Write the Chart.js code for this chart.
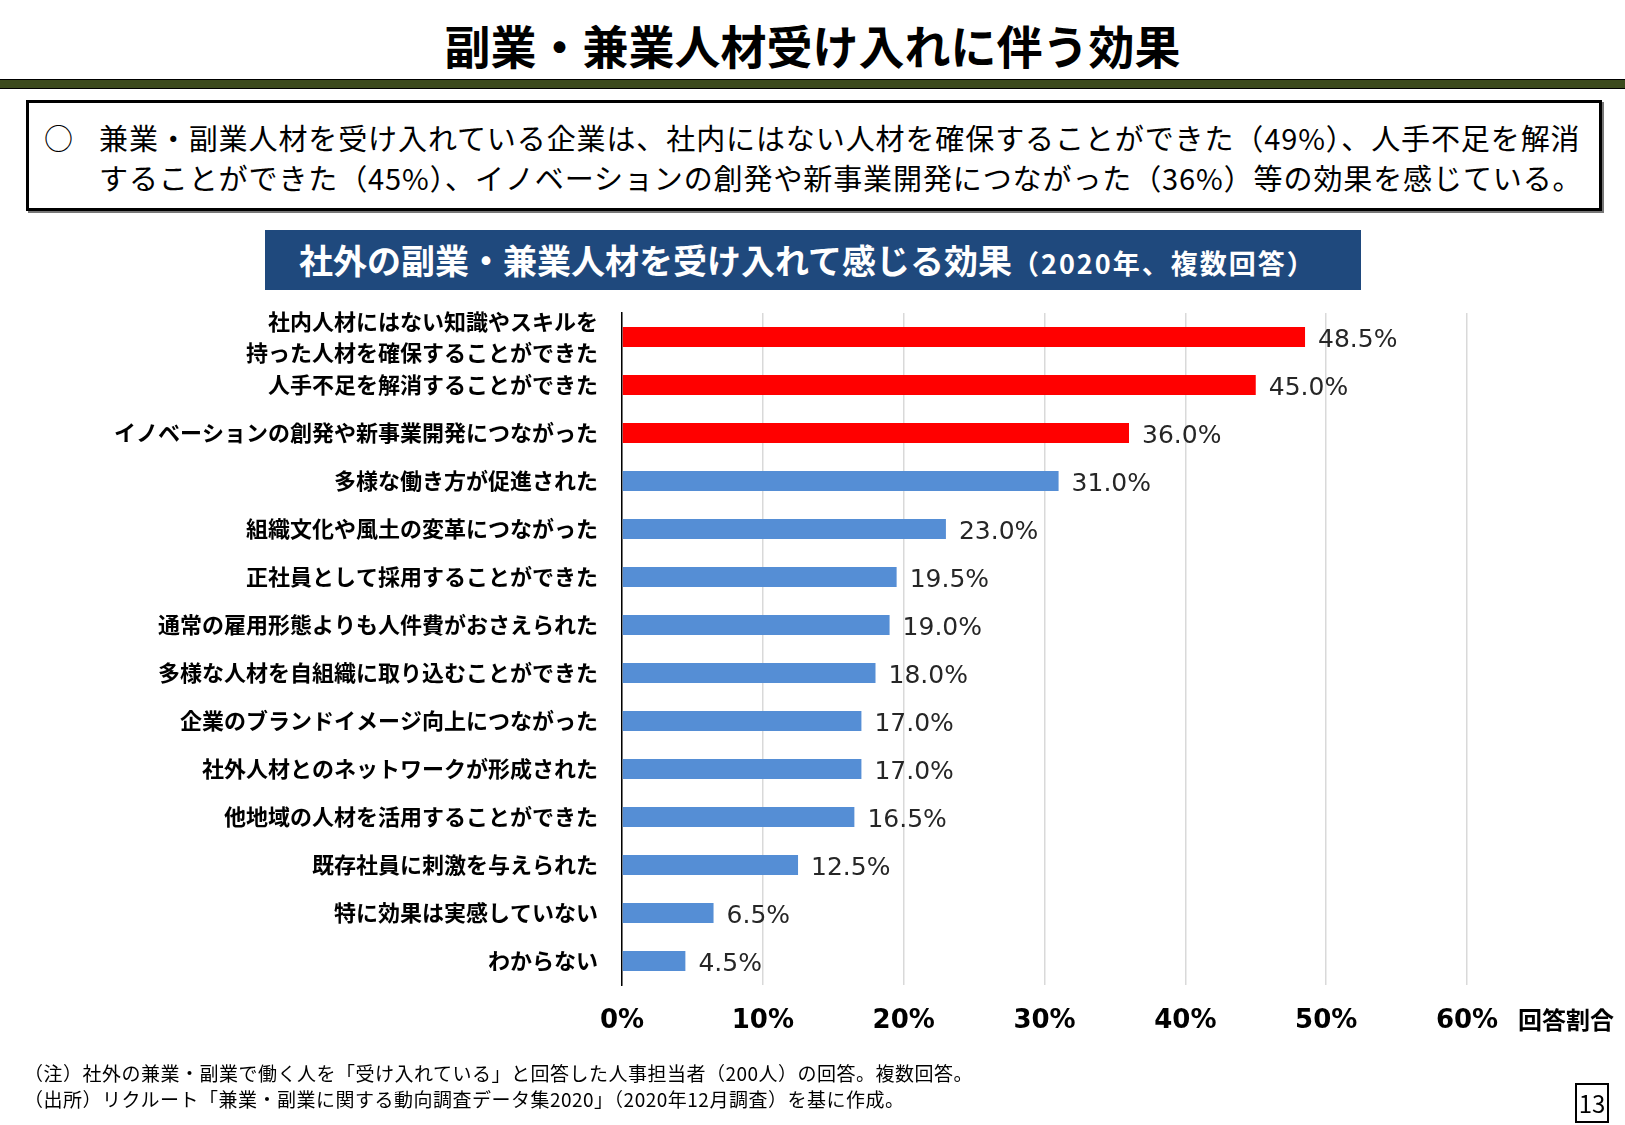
<!DOCTYPE html>
<html lang="ja">
<head>
<meta charset="utf-8">
<script src="https://cdn.jsdelivr.net/npm/chart.js@4.4.1/dist/chart.umd.min.js"></script>
<style>
  html, body { margin: 0; padding: 0; background: #fff; }
  body { width: 1625px; height: 1125px; position: relative; overflow: hidden;
         font-family: "Noto Sans CJK JP", "Noto Sans", sans-serif; color: #000; }
  .abs { position: absolute; }
  #title { left: 0; width: 1625px; top: 12px; text-align: center; font-size: 46px; font-weight: 700; line-height: 64px; }
  #band { left: 0; width: 1625px; top: 79px; height: 8px; background: #3c4a1d; border-top: 1px solid #000; border-bottom: 1px solid #000; }
  #box { left: 26px; top: 100px; width: 1570px; height: 105px; border: 3px solid #000; box-shadow: 2px 2px 0 #777; }
  .line { white-space: nowrap; font-size: 29px; line-height: 40px; letter-spacing: 0.9px; }
  #sub { left: 265px; top: 230px; width: 1096px; height: 60px; background: #1f497d; color: #fff;
         font-weight: 700; font-size: 34px; line-height: 60px; white-space: nowrap; }
  #sub small { font-size: 27px; letter-spacing: 2px; }
  #unit { left: 1518px; top: 1003px; font-size: 24px; font-weight: 700; line-height: 32px; }
  .foot { left: 24px; font-size: 19px; line-height: 26px; white-space: nowrap; letter-spacing: 0.5px; }
  #page { left: 1575px; top: 1083px; width: 30px; height: 36px; border: 2px solid #000; text-align: center;
          font-size: 24px; line-height: 36px; }
  #wrap { left: 0; top: 300px; width: 1625px; height: 760px; }
</style>
</head>
<body>
<div id="title" class="abs">副業・兼業人材受け入れに伴う効果</div>
<div id="band" class="abs"></div>
<div id="box" class="abs">
  <div class="line abs" style="left:15px; top:14px;">○</div>
  <div class="line abs" style="left:70px; top:14px;">兼業・副業人材を受け入れている企業は、社内にはない人材を確保することができた（49%）、人手不足を解消</div>
  <div class="line abs" style="left:70px; top:54px;">することができた（45%）、イノベーションの創発や新事業開発につながった（36%）等の効果を感じている。</div>
</div>
<div id="sub" class="abs"><span style="margin-left:34px">社外の副業・兼業人材を受け入れて感じる効果</span><small>（2020年、複数回答）</small></div>
<div id="wrap" class="abs"><canvas id="chart" width="1625" height="760"></canvas></div>
<div id="unit" class="abs">回答割合</div>
<div class="foot abs" style="top:1060px;">（注）社外の兼業・副業で働く人を「受け入れている」と回答した人事担当者（200人）の回答。複数回答。</div>
<div class="foot abs" style="top:1086px;">（出所）リクルート「兼業・副業に関する動向調査データ集2020」（2020年12月調査）を基に作成。</div>
<div id="page" class="abs">13</div>

<script>
// ================= DATA =================
const categories = [
  ["社内人材にはない知識やスキルを", "持った人材を確保することができた"],
  "人手不足を解消することができた",
  "イノベーションの創発や新事業開発につながった",
  "多様な働き方が促進された",
  "組織文化や風土の変革につながった",
  "正社員として採用することができた",
  "通常の雇用形態よりも人件費がおさえられた",
  "多様な人材を自組織に取り込むことができた",
  "企業のブランドイメージ向上につながった",
  "社外人材とのネットワークが形成された",
  "他地域の人材を活用することができた",
  "既存社員に刺激を与えられた",
  "特に効果は実感していない",
  "わからない"
];
const values = [48.5, 45.0, 36.0, 31.0, 23.0, 19.5, 19.0, 18.0, 17.0, 17.0, 16.5, 12.5, 6.5, 4.5];
const highlighted = [true, true, true, false, false, false, false, false, false, false, false, false, false, false];
const xTicks = [0, 10, 20, 30, 40, 50, 60];

// ================= LABEL PLUGIN =================
const valueLabels = {
  id: "valueLabels",
  afterDatasetsDraw(chart) {
    const ctx = chart.ctx;
    const meta = chart.getDatasetMeta(0);
    ctx.save();
    ctx.font = "25px 'DejaVu Sans'";
    ctx.fillStyle = "#262626";
    ctx.textAlign = "left";
    ctx.textBaseline = "middle";
    meta.data.forEach((bar, i) => {
      ctx.fillText(values[i].toFixed(1) + "%", bar.x + 13, bar.y + 3);
    });
    ctx.restore();
  }
};

// ================= CHART =================
const ctx = document.getElementById("chart").getContext("2d");

new Chart(ctx, {
  type: "bar",
  data: {
    labels: categories,
    datasets: [{
      data: values,
      backgroundColor: highlighted.map(h => h ? "#ff0000" : "#558ed5"),
      barPercentage: 0.42,
      categoryPercentage: 1.0
    }]
  },
  options: {
    indexAxis: "y",
    responsive: false,
    animation: false,
    layout: { padding: { left: 0, right: 158, top: 13, bottom: 0 } },
    plugins: { legend: { display: false }, tooltip: { enabled: false } },
    scales: {
      x: {
        min: 0,
        max: 60,
        afterBuildTicks: (scale) => { scale.ticks = xTicks.map(v => ({ value: v })); },
        afterFit: (scale) => { scale.height = 75; },
        grid: { color: "#d9d9d9", lineWidth: 1.5, drawTicks: false },
        border: { display: false },
        ticks: {
          padding: 21,
          color: "#000",
          font: { family: "'DejaVu Sans'", size: 26, weight: "bold" },
          callback: (v) => v + "%"
        }
      },
      y: {
        afterFit: (scale) => { scale.width = 622; scale.paddingTop = 0; scale.paddingBottom = 0; },
        grid: { display: false, drawTicks: false },
        border: { display: true, color: "#000", width: 1.5 },
        ticks: {
          autoSkip: false,
          padding: 24,
          color: "#000",
          font: { family: "'Noto Sans CJK JP'", size: 22, weight: "bold", lineHeight: 1.42 }
        }
      }
    }
  },
  plugins: [valueLabels]
});
</script>
</body>
</html>
